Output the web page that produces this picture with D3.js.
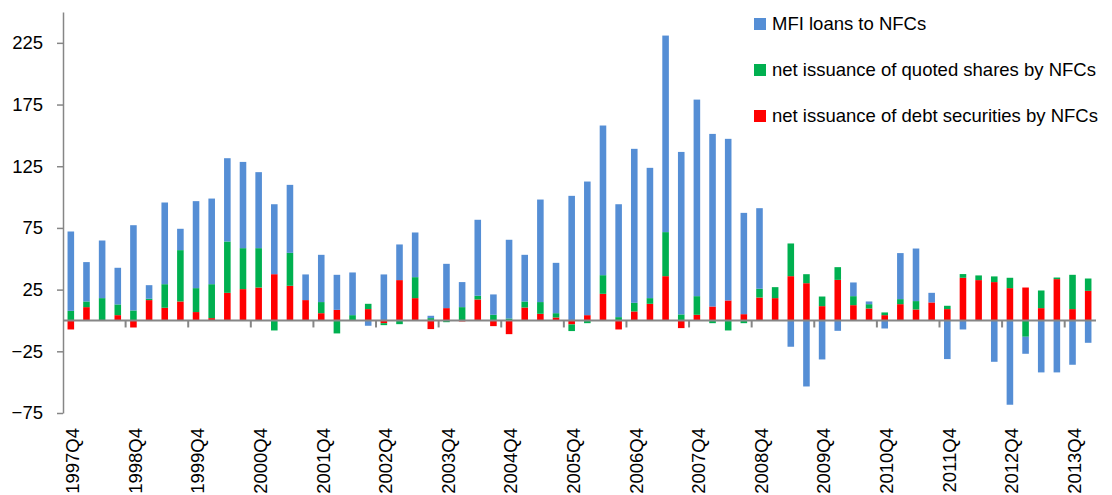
<!DOCTYPE html>
<html>
<head>
<meta charset="utf-8">
<script src="https://cdn.jsdelivr.net/npm/d3@7"></script>
<style>
  html, body { margin: 0; padding: 0; background: #ffffff; }
  svg { display: block; }
  text { font-family: "Liberation Sans", Arial, sans-serif; fill: #000; }
</style>
</head>
<body>
<svg id="chart" width="1112" height="495"></svg>
<script>
// ---- Data (EUR bn, quarterly flows) ----
const quarters = [
  "1997Q4",
  "1998Q1","1998Q2","1998Q3","1998Q4",
  "1999Q1","1999Q2","1999Q3","1999Q4",
  "2000Q1","2000Q2","2000Q3","2000Q4",
  "2001Q1","2001Q2","2001Q3","2001Q4",
  "2002Q1","2002Q2","2002Q3","2002Q4",
  "2003Q1","2003Q2","2003Q3","2003Q4",
  "2004Q1","2004Q2","2004Q3","2004Q4",
  "2005Q1","2005Q2","2005Q3","2005Q4",
  "2006Q1","2006Q2","2006Q3","2006Q4",
  "2007Q1","2007Q2","2007Q3","2007Q4",
  "2008Q1","2008Q2","2008Q3","2008Q4",
  "2009Q1","2009Q2","2009Q3","2009Q4",
  "2010Q1","2010Q2","2010Q3","2010Q4",
  "2011Q1","2011Q2","2011Q3","2011Q4",
  "2012Q1","2012Q2","2012Q3","2012Q4",
  "2013Q1","2013Q2","2013Q3","2013Q4",
  "2014Q1"
];

const mfiLoans = [
  64.3,
  31.9, 46.7, 29.7, 69.1,
  11.0, 66.2, 17.3, 70.5,
  69.4, 67.5, 69.9, 61.6,
  56.7, 55.1, 20.8, 38.3,
  28.4, 34.6, -4.3, 37.3,
  28.9, 36.2, 1.9, 35.9,
  20.3, 61.6, 16.5, 63.8,
  37.8, 83.1, 40.8, 101.0,
  108.3, 121.3, 91.5, 124.8,
  105.6, 159.3, 131.7, 159.3,
  139.9, 131.0, 82.1, 65.3,
  0, -21.3, -53.5, -31.6,
  -8.4, 11.1, 2.2, -6.5,
  37.3, 42.6, 7.8, -31.3,
  -7.3, 0, -33.5, -68.3,
  -13.8, -42.1, -42.1, -35.9,
  -18.1
];

const quotedShares = [
  7.8,
  4.6, 18.1, 8.7, 8.1,
  1.1, 19.1, 41.6, 19.4,
  27.5, 41.6, 33.2, 31.9,
  -8.1, 26.7, 0, 9.0,
  -10.5, 4.3, 4.3, -1.6,
  -3.0, 17.0, 1.9, -1.4,
  10.8, 3.0, 4.6, 1.6,
  4.9, 9.5, 3.5, -5.4,
  -2.2, 15.1, 2.7, 7.0,
  4.6, 35.7, 4.9, 15.1,
  -2.2, -8.1, -2.2, 7.1,
  8.9, 26.5, 7.3, 7.8,
  10.3, 7.3, 3.5, 2.2,
  4.1, 6.8, 0, 2.7,
  3.0, 3.8, 4.6, 8.4,
  -13.2, 14.3, 1.3, 27.8,
  10.0
];

const debtSecurities = [
  -7.3,
  10.8, 0, 4.3, -5.7,
  16.5, 10.3, 15.4, 6.8,
  1.9, 22.4, 25.4, 26.7,
  37.5, 28.1, 16.5, 5.9,
  8.6, 0, 9.2, -2.2,
  32.7, 18.1, -7.0, 10.0,
  -0.8, 17.0, -4.6, -11.1,
  10.5, 5.4, 2.4, -3.2,
  4.3, 21.6, -7.3, 7.3,
  13.5, 35.9, -6.2, 4.6,
  11.3, 16.2, 5.1, 18.6,
  18.1, 35.9, 30.2, 11.6,
  32.9, 12.4, 9.7, 4.3,
  13.2, 8.9, 14.6, 9.2,
  34.6, 32.7, 31.1, 26.2,
  26.7, 10.0, 33.5, 9.2,
  24.0
];

const seriesNames = [
  "MFI loans to NFCs",
  "net issuance of quoted shares by NFCs",
  "net issuance of debt securities by NFCs"
];
const seriesColors = ["#558ED5", "#00B050", "#FF0000"];

const xTickLabels = [
  "1997Q4","1998Q4","1999Q4","2000Q4","2001Q4","2002Q4","2003Q4","2004Q4",
  "2005Q4","2006Q4","2007Q4","2008Q4","2009Q4","2010Q4","2011Q4","2012Q4","2013Q4"
];
const yTickValues = [-75, -25, 25, 75, 125, 175, 225];

// ---- Build table ----
const keys = ["debt", "shares", "loans"]; // stacking order from zero outward
const table = quarters.map((q, i) => ({
  q: q,
  loans: mfiLoans[i],
  shares: quotedShares[i],
  debt: debtSecurities[i]
}));
const colorOf = { loans: seriesColors[0], shares: seriesColors[1], debt: seriesColors[2] };

// ---- Layout ----
const svg = d3.select("#chart");
const plotLeft = 63, plotRight = 1096, plotTop = 12, plotBottom = 413;
const fontSize = 18.5;

const pad = 0.58;
const x = d3.scaleBand()
  .domain(quarters)
  .range([plotLeft, plotRight])
  .paddingInner(pad)
  .paddingOuter(pad / 2);

const y = d3.scaleLinear()
  .domain([-75, 250])
  .range([plotBottom, plotTop]);

const stack = d3.stack()
  .keys(keys)
  .offset(d3.stackOffsetDiverging);
const stacked = stack(table);

// ---- Bars ----
const gBars = svg.append("g");
stacked.forEach(layer => {
  gBars.append("g")
    .attr("fill", colorOf[layer.key])
    .selectAll("rect")
    .data(layer)
    .join("rect")
    .attr("x", d => x(d.data.q))
    .attr("width", x.bandwidth())
    .attr("y", d => y(Math.max(d[0], d[1])))
    .attr("height", d => Math.abs(y(d[0]) - y(d[1])));
});

// ---- Y axis ----
const axisColor = "#868686";
const yAxis = svg.append("g")
  .attr("transform", `translate(${plotLeft},0)`)
  .call(d3.axisLeft(y).tickValues(yTickValues).tickSize(6).tickSizeOuter(0).tickPadding(14).tickFormat(d3.format("d")));
yAxis.select(".domain").attr("stroke", axisColor).attr("stroke-width", 1.5);
yAxis.selectAll(".tick line").attr("stroke", axisColor).attr("stroke-width", 1.5);
yAxis.selectAll(".tick text")
  .attr("font-family", '"Liberation Sans", Arial, sans-serif')
  .attr("font-size", fontSize)
  .attr("fill", "#000");

// ---- X axis (category axis at zero) ----
const y0 = y(0);
const gX = svg.append("g");
gX.append("line")
  .attr("x1", plotLeft).attr("x2", plotRight)
  .attr("y1", y0).attr("y2", y0)
  .attr("stroke", axisColor).attr("stroke-width", 2);

const step = x.step();
const boundaryQuarters = quarters.filter((q, i) => i > 0 && i % 4 === 0);
gX.selectAll("line.tick")
  .data(boundaryQuarters)
  .join("line")
  .attr("class", "tick")
  .attr("x1", q => x(q) + x.bandwidth() / 2 - step / 2)
  .attr("x2", q => x(q) + x.bandwidth() / 2 - step / 2)
  .attr("y1", y0)
  .attr("y2", y0 + 7)
  .attr("stroke", axisColor)
  .attr("stroke-width", 2);

gX.selectAll("text.xlabel")
  .data(xTickLabels)
  .join("text")
  .attr("class", "xlabel")
  .attr("transform", q => `translate(${x(q) + x.bandwidth() / 2},428) rotate(-90)`)
  .attr("text-anchor", "end")
  .attr("dy", "0.45em")
  .attr("font-size", fontSize)
  .text(q => q);

// ---- Legend ----
const legend = svg.append("g");
const legendY = [24, 70, 116];
seriesNames.forEach((name, i) => {
  legend.append("rect")
    .attr("x", 754).attr("y", legendY[i] - 6)
    .attr("width", 12).attr("height", 12)
    .attr("fill", seriesColors[i]);
  legend.append("text")
    .attr("x", 772).attr("y", legendY[i])
    .attr("dy", "0.35em")
    .attr("font-size", fontSize)
    .text(name);
});
</script>
</body>
</html>
